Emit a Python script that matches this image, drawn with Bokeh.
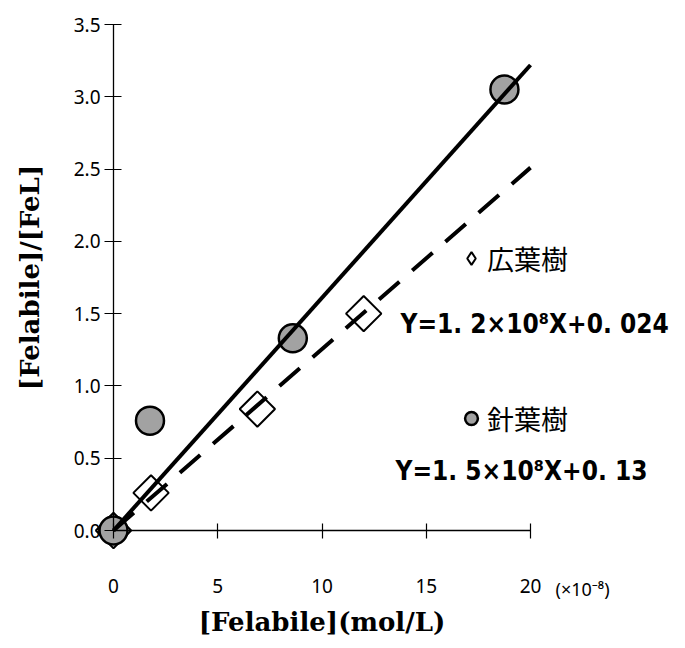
import numpy as np
from bokeh.plotting import figure
from bokeh.models import (Range1d, FixedTicker, Legend, LegendItem, ColumnDataSource,
                          CustomJSTickFormatter)
from bokeh.core.properties import value
from bokeh.embed import file_html
from bokeh.resources import INLINE

# ---- data (x in units of 1e-8 mol/L) ----
conifer_x = [0.0, 1.75, 8.6, 18.75]
conifer_y = [0.0, 0.76, 1.33, 3.05]
broadleaf_x = [0.0, 1.8, 6.9, 12.0]
broadleaf_y = [0.0, 0.26, 0.84, 1.50]
fit_x = [0.0, 20.0]
conifer_fit_y = [0.0, 3.22]
broadleaf_fit_y = [0.0, 2.51]
x_ticks = [0, 5, 10, 15, 20]
y_ticks = [0.0, 0.5, 1.0, 1.5, 2.0, 2.5, 3.0, 3.5]
broadleaf_label = "広葉樹"
conifer_label = "針葉樹"
broadleaf_eq = "Y=1. 2×10⁸X+0. 024"
conifer_eq = "Y=1. 5×10⁸X+0. 13"
x_unit_note = "(×10⁻⁸)"

W, H = 680, 646
# pixel mapping (page coords): x0 at 113, x20 at 530 ; y0 at 530, y3.5 at 24
px_x0, px_per_x = 113.0, (530.0 - 113.0) / 20.0
px_y0, px_per_y = 530.0, (530.0 - 24.0) / 3.5
xr = Range1d((0 - px_x0) / px_per_x, (W - px_x0) / px_per_x)
yr = Range1d((px_y0 - H) / px_per_y, (px_y0 - 0) / px_per_y)

p = figure(width=W, height=H, x_range=xr, y_range=yr, output_backend="svg",
           toolbar_location=None, min_border=0)
p.outline_line_color = None
p.grid.visible = False
p.background_fill_color = "white"

tick_font = "Noto Sans"
for ax, ticks, bnd in ((p.xaxis[0], x_ticks, (0, 20)), (p.yaxis[0], y_ticks, (0, 3.5))):
    ax.ticker = FixedTicker(ticks=ticks)
    ax.fixed_location = 0
    ax.bounds = bnd
    ax.axis_line_width = 1.3
    ax.axis_line_color = "black"
    ax.major_tick_line_color = "black"
    ax.major_tick_line_width = 1.2
    ax.minor_tick_line_color = None
    ax.major_label_text_font = tick_font
    ax.major_label_text_font_size = "19px"
    ax.major_label_text_color = "black"
    ax.axis_label_text_font = "DejaVu Serif"
    ax.axis_label_text_font_style = "bold"
    ax.axis_label_text_font_size = "26px"
    ax.axis_label_text_color = "black"

p.xaxis[0].major_tick_in = 7
p.xaxis[0].major_tick_out = 8
p.xaxis[0].major_label_standoff = 40
p.xaxis[0].axis_label = "[Felabile](mol/L)"
p.xaxis[0].axis_label_standoff = 11
p.yaxis[0].major_tick_in = 8
p.yaxis[0].major_tick_out = 9
p.yaxis[0].major_label_standoff = 4
p.yaxis[0].formatter = CustomJSTickFormatter(code="return tick.toFixed(1)")
p.yaxis[0].axis_label = "[Felabile]/[FeL]"
p.yaxis[0].axis_label_standoff = 26

src_b = ColumnDataSource(dict(x=broadleaf_x, y=broadleaf_y))
src_c = ColumnDataSource(dict(x=conifer_x, y=conifer_y))
# legend key for the broadleaf series (the legend ignores marker angles): a diamond
# glyph drawn under the rotated white squares, so only the legend shows it
r_b_key = p.scatter("x", "y", source=src_b, marker="diamond", size=24,
                    fill_color="white", line_color="black", line_width=2)
r_b = p.scatter("x", "y", source=src_b, marker="square", angle=np.pi / 4, size=25,
                fill_color="white", line_color="black", line_width=2)
r_c = p.scatter("x", "y", source=src_c, marker="circle", size=28,
                fill_color="#a2a2a2", line_color="black", line_width=2.5)

p.line(fit_x, conifer_fit_y, line_color="black", line_width=4)
p.line(fit_x, broadleaf_fit_y, line_color="black", line_width=4, line_dash="27 17")

row_h = 40
legend = Legend(items=[LegendItem(label=broadleaf_label, renderers=[r_b_key]),
                       LegendItem(label=conifer_label, renderers=[r_c])],
                location=(455, H - (418 + row_h // 2)), orientation="vertical",
                glyph_width=32, glyph_height=row_h, label_height=row_h,
                spacing=160 - row_h,
                label_standoff=0, padding=0, margin=0,
                border_line_color=None, background_fill_alpha=0,
                label_text_font="Noto Sans CJK JP",
                label_text_font_size="27px", label_text_color="black")
p.add_layout(legend, "center")

eq_font = value("DejaVu Sans Condensed")
eq_x = [(400 - px_x0) / px_per_x, (395 - px_x0) / px_per_x]
eq_y = [(px_y0 - 323) / px_per_y, (px_y0 - 470) / px_per_y]
p.text(x=eq_x, y=eq_y, text=[broadleaf_eq, conifer_eq], text_font=eq_font,
       text_font_style="bold", text_font_size="26px", text_color="black",
       text_align="left", text_baseline="middle")

p.text(x=[(555 - px_x0) / px_per_x], y=[(px_y0 - 588) / px_per_y], text=[x_unit_note],
       text_font=value(tick_font), text_font_size="18px", text_color="black",
       text_align="left", text_baseline="middle")

open("out.html", "w").write(file_html(p, INLINE))
